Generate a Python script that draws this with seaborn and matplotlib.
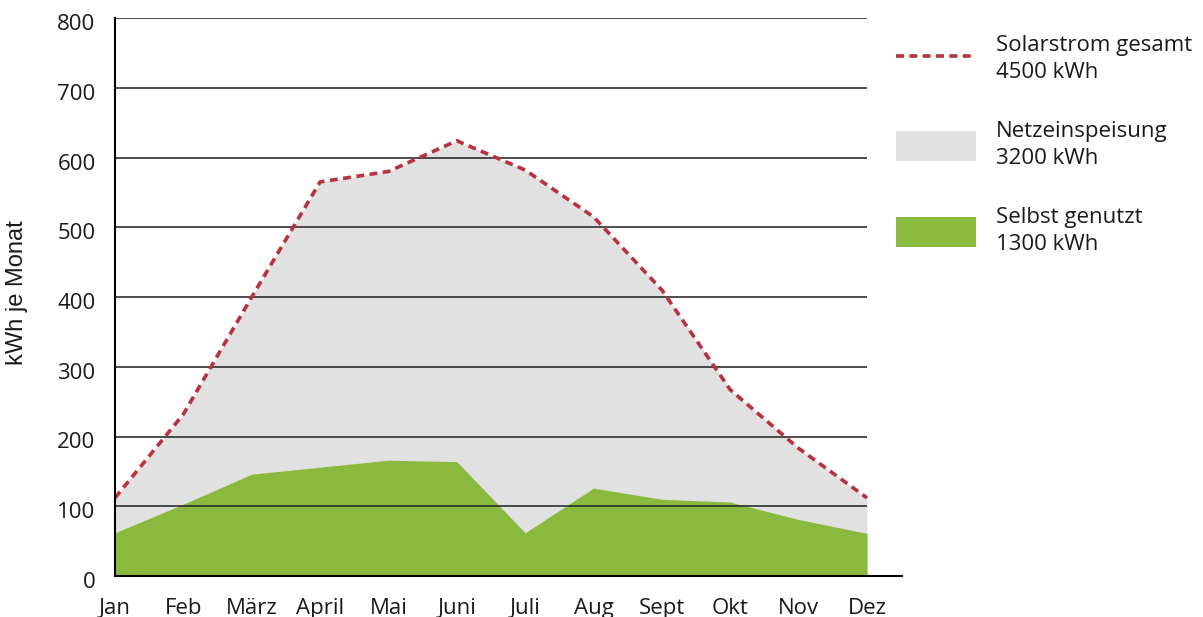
import matplotlib.pyplot as plt
import matplotlib.transforms as mtransforms
import seaborn as sns
import pandas as pd
from matplotlib.lines import Line2D
from matplotlib.patches import Patch

months = ['Jan', 'Feb', 'März', 'April', 'Mai', 'Juni', 'Juli', 'Aug', 'Sept', 'Okt', 'Nov', 'Dez']
solar_total = [112, 232, 400, 565, 580, 624, 582, 515, 410, 267, 183, 112]
self_used = [62, 103, 146, 156, 166, 164, 62, 126, 110, 106, 81, 61]
y_ticks = [0, 100, 200, 300, 400, 500, 600, 700, 800]
legend_labels = ['Solarstrom gesamt\n4500 kWh', 'Netzeinspeisung\n3200 kWh', 'Selbst genutzt\n1300 kWh']

RED = '#b7323d'
GREY = '#e1e1e1'
GREEN = '#89ba3e'


def main():
    sns.set_style('white')
    plt.rcParams['font.family'] = ['Open Sans', 'DejaVu Sans']

    df = pd.DataFrame({'x': range(len(months)), 'solar': solar_total, 'own': self_used})

    fig = plt.figure(figsize=(12.03, 6.17), dpi=100)
    ax = fig.add_axes([115 / 1203, 41 / 617, 787 / 1203, 558 / 617])

    ax.fill_between(df['x'], 0, df['solar'], color=GREY, lw=0, zorder=1)
    ax.fill_between(df['x'], 0, df['own'], color=GREEN, lw=0, zorder=2)
    ax.hlines(y_ticks[1:], 0, len(months) - 1, color='#2a2a2a', lw=1.3, alpha=0.9, zorder=3)
    sns.lineplot(data=df, x='x', y='solar', ax=ax, color=RED, lw=2.6,
                 dashes=False, zorder=4)
    ax.lines[-1].set_dashes((2.2, 1.5))

    ax.set_xlim(0, (len(months) - 1) * 787 / 752)
    ax.set_ylim(0, 800)
    ax.set_xticks(range(len(months)))
    ax.set_xticklabels(months, fontsize=16, color='#1a1a1a')
    ax.set_yticks(y_ticks)
    ax.set_yticklabels(y_ticks, fontsize=16, color='#1a1a1a')
    ax.tick_params(axis='x', direction='out', length=11, width=1.3, color='black', pad=5)
    ax.tick_params(axis='y', length=0, pad=14)
    ax.set_xlabel('')
    ax.set_ylabel('')

    # nudge y labels slightly down like the old-style figures of the original
    shift = mtransforms.ScaledTranslation(0, -4 / 100, fig.dpi_scale_trans)
    for lab in ax.get_yticklabels():
        lab.set_transform(lab.get_transform() + shift)

    for side in ['top', 'right']:
        ax.spines[side].set_visible(False)
    for side in ['left', 'bottom']:
        ax.spines[side].set_color('black')
        ax.spines[side].set_linewidth(1.5)
        ax.spines[side].set_zorder(5)

    fig.text(17 / 1203, 1 - 293 / 617, 'kWh je Monat', rotation=90, fontsize=17,
             family=['Liberation Sans', 'DejaVu Sans'], color='#1a1a1a',
             ha='center', va='center')

    handles = [
        Line2D([0], [0], color=RED, lw=2.6, dashes=(2.2, 1.5)),
        Patch(facecolor=GREY, edgecolor='none'),
        Patch(facecolor=GREEN, edgecolor='none'),
    ]
    leg = fig.legend(handles, legend_labels, loc='upper left',
                     bbox_to_anchor=(876 / 1203, 1 - 15 / 617), frameon=False,
                     fontsize=16, handlelength=3.6, handleheight=1.7,
                     handletextpad=0.9, labelspacing=1.7)
    for t in leg.get_texts():
        t.set_linespacing(1.38)
        t.set_color('#1a1a1a')

    plt.savefig('out.png', dpi=100)


if __name__ == '__main__':
    main()
